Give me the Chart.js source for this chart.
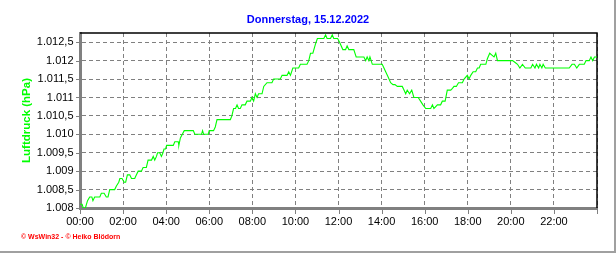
<!DOCTYPE html>
<html>
<head>
<meta charset="utf-8">
<script src="https://cdn.jsdelivr.net/npm/chart.js@4"></script>
<style>
  html, body { margin: 0; padding: 0; background: #fff; }
  #wrap { position: relative; width: 616px; height: 253px; }
  #title { position: absolute; left: 0; top: 13px; width: 616px; text-align: center;
           font: bold 11px "Liberation Sans", Arial, sans-serif; line-height: 13px; color: #0000ff; }
  #footer { position: absolute; left: 21px; top: 233px; white-space: nowrap;
            font: bold 7px "Liberation Sans", Arial, sans-serif; line-height: 8px; color: #ff0000; }
  #frame { position: absolute; left: 0; top: 0; width: 614px; height: 251px;
           border-right: 2px solid #a0a0a0; border-bottom: 2px solid #a0a0a0; pointer-events: none; }
</style>
</head>
<body>
<div id="wrap">
  <canvas id="chart" width="616" height="253"></canvas>
  <div id="title">Donnerstag, 15.12.2022</div>
  <div id="footer">© WsWin32 - © Heiko Blödorn</div>
  <div id="frame"></div>
</div>
<script>
// time of day in hours, air pressure in hPa
const hours = [
  0.00, 0.10, 0.15, 0.25, 0.35, 0.45, 0.55, 0.60, 0.68, 0.92, 0.99, 1.12, 1.22, 1.30, 1.38, 1.61,
  1.69, 1.80, 1.85, 1.95, 2.05, 2.12, 2.20, 2.31, 2.39, 2.54, 2.62, 2.70, 2.85, 2.93, 3.08, 3.16,
  3.32, 3.40, 3.47, 3.55, 3.60, 3.70, 3.78, 3.85, 3.90, 3.97, 4.02, 4.33, 4.40, 4.56, 4.59, 4.66,
  4.75, 4.84, 5.26, 5.33, 5.64, 5.69, 5.74, 5.95, 6.00, 6.20, 6.28, 6.36, 6.98, 7.05, 7.13, 7.22,
  7.29, 7.36, 7.44, 7.52, 7.67, 7.75, 7.91, 7.98, 8.06, 8.14, 8.22, 8.29, 8.45, 8.53, 8.68, 8.91,
  8.99, 9.30, 9.38, 9.61, 9.69, 9.77, 9.88, 10.15, 10.23, 10.54, 10.62, 10.70, 10.81, 10.93, 11.02, 11.32,
  11.40, 11.47, 11.63, 11.71, 11.78, 11.96, 12.05, 12.20, 12.33, 12.40, 12.48, 12.71, 12.82, 13.18, 13.26, 13.33,
  13.41, 13.46, 13.57, 14.03, 14.11, 14.19, 14.31, 14.42, 14.53, 14.62, 14.73, 14.96, 15.04, 15.12, 15.19, 15.30,
  15.40, 15.50, 15.70, 15.81, 15.92, 16.05, 16.28, 16.36, 16.43, 16.59, 16.74, 16.82, 16.95, 17.05, 17.21, 17.29,
  17.36, 17.47, 17.57, 17.75, 17.83, 17.98, 18.06, 18.14, 18.25, 18.37, 18.45, 18.53, 18.60, 18.84, 18.91, 19.02,
  19.12, 19.22, 19.30, 19.38, 20.08, 20.20, 20.31, 20.42, 20.54, 20.67, 20.93, 21.01, 21.12, 21.19, 21.29, 21.35,
  21.44, 21.50, 21.60, 22.71, 22.84, 22.95, 23.06, 23.18, 23.26, 23.41, 23.49, 23.64, 23.72, 23.80, 23.88, 24.00
];
const pressure = [
  1008.1, 1008.1, 1008.0, 1008.0, 1008.2, 1008.3, 1008.3, 1008.2, 1008.3, 1008.3, 1008.4, 1008.4, 1008.3, 1008.3, 1008.5, 1008.5,
  1008.6, 1008.7, 1008.8, 1008.8, 1008.7, 1008.7, 1008.9, 1008.9, 1008.8, 1008.8, 1008.9, 1009.0, 1009.0, 1009.1, 1009.1, 1009.3,
  1009.3, 1009.4, 1009.3, 1009.4, 1009.5, 1009.5, 1009.4, 1009.5, 1009.6, 1009.6, 1009.7, 1009.7, 1009.8, 1009.8, 1009.7, 1009.9,
  1010.0, 1010.1, 1010.1, 1010.0, 1010.0, 1010.1, 1010.0, 1010.0, 1010.1, 1010.1, 1010.2, 1010.4, 1010.4, 1010.5, 1010.7, 1010.7,
  1010.8, 1010.7, 1010.7, 1010.8, 1010.8, 1010.9, 1010.9, 1011.0, 1010.9, 1011.1, 1011.0, 1011.1, 1011.1, 1011.3, 1011.4, 1011.4,
  1011.5, 1011.5, 1011.6, 1011.6, 1011.7, 1011.6, 1011.8, 1011.8, 1011.9, 1011.9, 1012.0, 1012.2, 1012.2, 1012.45, 1012.6, 1012.6,
  1012.7, 1012.6, 1012.6, 1012.7, 1012.6, 1012.6, 1012.5, 1012.3, 1012.3, 1012.4, 1012.3, 1012.3, 1012.1, 1012.1, 1012.0, 1012.1,
  1012.0, 1012.1, 1011.9, 1011.9, 1011.8, 1011.7, 1011.55, 1011.4, 1011.35, 1011.35, 1011.3, 1011.3, 1011.2, 1011.1, 1011.2, 1011.1,
  1011.2, 1011.0, 1011.0, 1010.9, 1010.8, 1010.7, 1010.7, 1010.8, 1010.7, 1010.8, 1010.8, 1010.9, 1010.9, 1011.2, 1011.2, 1011.25,
  1011.3, 1011.3, 1011.4, 1011.4, 1011.5, 1011.6, 1011.5, 1011.6, 1011.7, 1011.7, 1011.8, 1011.8, 1011.9, 1011.9, 1012.05, 1012.2,
  1012.15, 1012.1, 1012.2, 1012.0, 1012.0, 1011.95, 1011.9, 1011.8, 1011.9, 1011.8, 1011.8, 1011.9, 1011.8, 1011.9, 1011.8, 1011.9,
  1011.8, 1011.9, 1011.8, 1011.8, 1011.9, 1011.9, 1011.8, 1011.9, 1011.9, 1011.9, 1012.0, 1012.0, 1012.1, 1012.0, 1012.1, 1012.1
];
const yMin = 1008;
const yMax = 1012.75;
const yLabelStep = 0.5;
const xLabelStepMin = 120;

const points = hours.map((h, i) => ({ x: h * 60, y: pressure[i] }));

const isHalf = v => Math.abs(v / yLabelStep - Math.round(v / yLabelStep)) < 1e-6;
const isMajorX = v => v % xLabelStepMin === 0;

function germanNum(v) {
  const s = (Math.round(v * 10) / 10).toFixed(1);
  let [i, f] = s.split('.');
  if (i.length > 3) i = i.slice(0, -3) + '.' + i.slice(-3);
  return f === '0' ? i : i + ',' + f;
}

function hhmm(m) {
  const h = Math.round(m / 60);
  return (h < 10 ? '0' : '') + h + ':00';
}

// black top/right border of the plot + longer tick marks at the labelled values
const frame = {
  id: 'frame',
  beforeDatasetsDraw(chart) {
    const { ctx, chartArea: a } = chart;
    ctx.save();
    ctx.strokeStyle = '#000';
    ctx.lineWidth = 1.5;
    ctx.beginPath();
    ctx.moveTo(a.left, a.top);
    ctx.lineTo(a.right, a.top);
    ctx.lineTo(a.right, a.bottom);
    ctx.stroke();
    ctx.restore();
  },
  afterDraw(chart) {
    const { ctx, chartArea: a, scales: { x, y } } = chart;
    ctx.save();
    ctx.strokeStyle = '#808080';
    ctx.lineWidth = 1;
    ctx.beginPath();
    x.ticks.forEach(t => {
      if (!isMajorX(t.value)) return;
      const px = Math.round(x.getPixelForValue(t.value)) + 0.5;
      ctx.moveTo(px, a.bottom);
      ctx.lineTo(px, a.bottom + 6);
    });
    y.ticks.forEach(t => {
      if (!isHalf(t.value)) return;
      const py = Math.round(y.getPixelForValue(t.value)) + 0.5;
      ctx.moveTo(a.left - 4, py);
      ctx.lineTo(a.left, py);
    });
    ctx.stroke();
    ctx.restore();
  }
};

const tickFont = { family: '"Liberation Sans", Arial, sans-serif', size: 11 };

new Chart(document.getElementById('chart'), {
  type: 'line',
  data: {
    datasets: [{
      data: points,
      borderColor: '#00ff00',
      borderWidth: 1.1,
      pointRadius: 0,
      tension: 0,
      fill: false
    }]
  },
  options: {
    responsive: false,
    animation: false,
    layout: { padding: { left: 0, right: 19, top: 33, bottom: 0 } },
    plugins: {
      legend: { display: false },
      title: { display: false },
      tooltip: { enabled: false }
    },
    scales: {
      x: {
        type: 'linear',
        min: 0,
        max: 1440,
        afterFit: s => { s.height = 45; },
        ticks: {
          stepSize: 20,
          autoSkip: false,
          maxRotation: 0,
          padding: 5.5,
          color: '#000',
          font: tickFont,
          callback: v => (isMajorX(v) && v < 1440) ? hhmm(v) : ''
        },
        grid: {
          color: c => (c.tick && isMajorX(c.tick.value)) ? '#808080' : 'transparent',
          tickColor: '#808080',
          tickLength: 1.5,
          lineWidth: 1
        },
        border: { display: true, color: '#808080', width: 3, dash: [4, 3] }
      },
      y: {
        min: yMin,
        max: yMax,
        afterFit: s => { s.width = 80; },
        title: {
          display: true,
          text: 'Luftdruck (hPa)',
          color: '#00ff00',
          font: { family: '"Liberation Sans", Arial, sans-serif', size: 11.5, weight: 'bold' },
          padding: { top: 20, bottom: 0 }
        },
        ticks: {
          stepSize: 0.1,
          autoSkip: false,
          padding: 5.5,
          color: '#000',
          font: tickFont,
          callback: v => isHalf(v) ? germanNum(v) : ''
        },
        grid: {
          color: c => (c.tick && isHalf(c.tick.value)) ? '#808080' : 'transparent',
          tickColor: '#808080',
          tickLength: 1,
          lineWidth: 1
        },
        border: { display: true, color: '#808080', width: 3, dash: [4, 3] }
      }
    }
  },
  plugins: [frame]
});
</script>
</body>
</html>
